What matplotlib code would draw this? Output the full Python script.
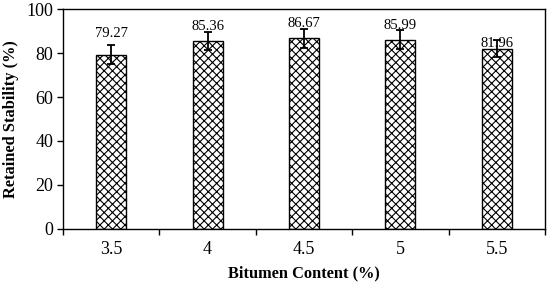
import numpy as np
import matplotlib
matplotlib.use("Agg")
import matplotlib.pyplot as plt

# data
categories = ["3.5", "4", "4.5", "5", "5.5"]
retained = [79.27, 85.36, 86.67, 85.99, 81.96]
errors = [4.2, 4.2, 4.3, 4.3, 3.8]
label_y = [89.1, 92.0, 93.5, 92.7, 84.4]

plt.rcParams["font.family"] = ["Liberation Serif", "DejaVu Serif"]
plt.rcParams["hatch.linewidth"] = 0.8

fig = plt.figure(figsize=(5.5, 2.83), dpi=100)
ax = fig.add_axes([0.1145, 0.191, 0.8765, 0.777])

x = np.arange(len(categories))
ax.bar(x, retained, width=0.31, color="white", edgecolor="black",
       linewidth=1.0, hatch="xxxx", zorder=2)
ax.errorbar(x, retained, yerr=errors, fmt="none", ecolor="black",
            elinewidth=1.3, capsize=3, capthick=1.3, zorder=3)

for xi, v, ly in zip(x, retained, label_y):
    ax.text(xi, ly, f"{v:.2f}", ha="center", va="center", fontsize=10.5, zorder=4)

ax.set_xlim(-0.5, len(categories) - 0.5)
ax.set_ylim(0, 100)
ax.set_yticks(range(0, 101, 20))
ax.set_xticks(x)
ax.set_xticklabels(categories, fontsize=13)
ax.tick_params(axis="y", labelsize=13, direction="out", length=4, width=1, pad=3)
# category boundaries carry the x ticks
ax.set_xticks(np.arange(-0.5, len(categories), 1.0), minor=True)
ax.tick_params(axis="x", which="major", length=0, pad=9)
ax.tick_params(axis="x", which="minor", direction="out", length=4, width=1)

for s in ax.spines.values():
    s.set_linewidth(1.0)

ax.set_xlabel("Bitumen Content (%)", fontsize=11.8, fontweight="bold", labelpad=5)
ax.set_ylabel("Retained Stability (%)", fontsize=11.8, fontweight="bold", labelpad=5)

fig.savefig("out.png", dpi=100)
